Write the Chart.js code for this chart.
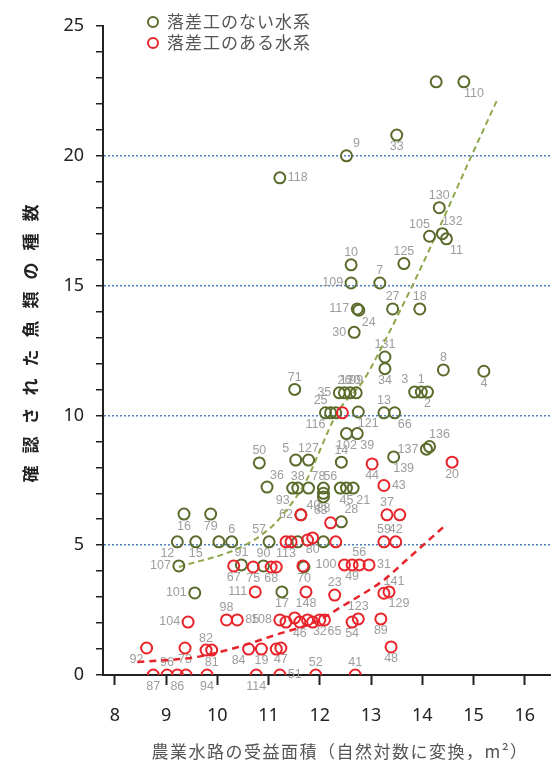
<!DOCTYPE html>
<html>
<head>
<meta charset="utf-8">
<script src="https://cdn.jsdelivr.net/npm/chart.js@4.4.1/dist/chart.umd.min.js"></script>
<style>
html, body { margin: 0; background: #fff; }
#wrap { width: 558px; height: 769px; }
</style>
</head>
<body>
<div id="wrap"><canvas id="c"></canvas></div>
<script>
// 落差工のない水系（緑）
const greenX = [14.27, 14.81, 13.50, 12.52, 11.22, 14.33, 14.14, 14.39, 14.47, 12.61,
                13.64, 12.61, 13.17, 12.73, 13.42, 13.95, 12.76, 12.67, 13.27, 13.27,
                14.41, 15.20, 13.85, 13.98, 14.10, 11.51, 12.38, 12.48, 12.59, 12.71,
                13.25, 13.46, 12.11, 12.21, 12.31, 12.75, 12.52, 12.73, 12.42, 13.44,
                14.08, 14.14, 10.82, 10.97, 11.53, 11.78, 11.47, 11.57, 11.78, 12.07,
                12.07, 12.07, 12.40, 12.52, 12.65, 11.63, 12.42, 9.22, 9.58, 10.03,
                10.28, 9.35, 9.87, 11.01, 11.57, 12.07, 9.25, 9.56, 10.47, 10.90,
                11.69, 11.26];
const greenY = [22.85, 22.85, 20.8, 20.0, 19.15, 18.0, 16.9, 17.0, 16.8, 15.8,
                15.85, 15.1, 15.1, 14.1, 14.1, 14.1, 14.05, 13.2, 12.25, 11.8,
                11.75, 11.7, 10.9, 10.9, 10.9, 11.0, 10.87, 10.87, 10.87, 10.87,
                10.1, 10.1, 10.1, 10.1, 10.1, 10.13, 9.3, 9.3, 8.2, 8.4,
                8.7, 8.8, 8.17, 7.24, 8.28, 8.28, 7.2, 7.2, 7.2, 7.2,
                7.0, 6.86, 7.2, 7.2, 7.2, 6.17, 5.9, 5.13, 5.13, 5.13,
                5.13, 6.2, 6.2, 5.13, 5.13, 5.13, 4.2, 3.16, 4.24, 4.2,
                4.16, 3.2];
const greenIds = ['', '110', '33', '9', '118', '130', '105', '132', '11', '10',
                  '125', '109', '7', '117', '27', '18', '24', '30', '131', '34',
                  '8', '4', '3', '1', '2', '71', '35', '26', '120', '99',
                  '13', '66', '116', '25', '', '121', '102', '39', '14', '139',
                  '137', '136', '50', '36', '5', '127', '93', '38', '78', '',
                  '40', '88', '56', '45', '21', '62', '28', '12', '15', '',
                  '6', '16', '79', '57', '', '', '107', '101', '91', '90',
                  '70', '17'];
const greenSide = ['', 'br', 'b', 'tr', 'r', 't', 'tl', 'tr', 'br', 't',
                   't', 'l', 't', 'l', 't', 't', 'br', 'l', 't', 'b',
                   't', 'b', 'tl', 't', 'b', 't', 'l', 't', 't', 't',
                   't', 'br', 'bl', 'tl', '', 'br', 'b', 'br', 't', 'br',
                   'l', 'tr', 't', 'tr', 'tl', 't', 'bl', 't', 'tr', '',
                   'bl', 'b', 'tl', 'b', 'br', 'l', 'tr', 'bl', 'b', '',
                   't', 'b', 'b', 'tl', '', '', 'l', 'l', 't', 't',
                   'b', 'b'];

// 落差工のある水系（赤）
const redX = [12.44, 13.02, 13.25, 13.31, 13.56, 13.25, 13.48, 14.58, 11.63, 12.21,
              11.34, 11.44, 11.76, 11.86, 12.31, 10.32, 10.70, 11.05, 11.15, 11.67,
              12.48, 12.63, 12.77, 12.96, 12.29, 11.73, 13.25, 13.35, 11.22, 11.34,
              11.51, 11.61, 11.76, 11.86, 12.00, 12.09, 12.63, 12.75, 13.19, 10.61,
              10.86, 11.15, 11.24, 13.39, 8.62, 9.37, 9.78, 9.89, 10.18, 10.39,
              9.43, 10.74, 8.75, 9.02, 9.22, 9.39, 9.80, 10.76, 11.22, 11.92,
              12.69];
const redY = [10.1, 8.13, 7.3, 6.17, 6.17, 5.13, 5.13, 8.2, 6.17, 5.86,
              5.13, 5.13, 5.2, 5.28, 5.13, 4.2, 4.16, 4.16, 4.16, 4.2,
              4.24, 4.24, 4.24, 4.24, 3.08, 3.2, 3.15, 3.2, 2.12, 2.04,
              2.2, 2.04, 2.12, 2.04, 2.12, 2.12, 2.04, 2.16, 2.16, 1.0,
              1.0, 1.0, 1.04, 1.08, 1.04, 1.04, 0.96, 0.96, 2.12, 2.12,
              2.04, 3.2, 0, 0, 0, 0, 0, 0, 0, 0,
              0];
const redIds = ['', '44', '43', '37', '', '59', '42', '20', '', '63',
                '113', '', '', '80', '', '67', '75', '68', '', '',
                '100', '49', '56', '31', '23', '148', '141', '129', '108', '',
                '', '46', '', '', '32', '65', '54', '123', '89', '84',
                '19', '', '47', '48', '92', '73', '82', '81', '98', '85',
                '104', '111', '87', '96', '86', '', '94', '114', '51', '52',
                '41'];
const redSide = ['', 'b', 'r', 't', '', 't', 't', 'b', '', 'tl',
                 'b', '', '', 'b', '', 'b', 'b', 'b', '', '',
                 'l', 'b', 't', 'r', 't', 'b', 'tr', 'br', 'l', '',
                 '', 'b', '', '', 'b', 'br', 'b', 't', 'b', 'bl',
                 'b', '', 'b', 'b', 'bl', 'b', 't', 'b', 't', 'r',
                 'l', 'l', 'b', 't', 'b', '', 'b', 'b', 'r', 't',
                 't'];

// 近似曲線（図から読み取った点）
const greenFitX = [9.25, 10.47, 10.99, 11.19, 11.71, 12.34, 12.86, 13.25, 13.83, 14.14, 14.95, 15.47];
const greenFitY = [4.16, 4.93, 5.59, 5.97, 7.40, 10.1, 11.37, 12.8, 15.1, 16.4, 19.96, 22.2];
const redFitX = [8.44, 9.58, 10.41, 11.13, 11.90, 12.54, 13.25, 13.69, 14.41];
const redFitY = [0.5, 0.69, 1.08, 1.54, 2.04, 2.77, 3.66, 4.43, 5.70];

const legendLabels = ['落差工のない水系', '落差工のある水系'];
const xTitle = '農業水路の受益面積（自然対数に変換，m²）';
const yTitle = '確認された魚類の種数';

const GREEN = '#5a6b2c';
const RED = '#e8242b';

function toPoints(xs, ys) {
    return xs.map((x, i) => ({ x: x, y: ys[i] }));
}

// 点の番号ラベル
const pointLabels = {
    id: 'pointLabels',
    beforeDatasetsDraw(chart) {
        const ctx = chart.ctx;
        ctx.save();
        ctx.font = '12.5px "Liberation Sans", Arial, sans-serif';
        ctx.fillStyle = '#9d9d9d';
        ctx.textBaseline = 'middle';
        chart.data.datasets.forEach((ds, i) => {
            if (!ds.ids) return;
            const meta = chart.getDatasetMeta(i);
            meta.data.forEach((pt, j) => {
                const id = ds.ids[j];
                if (!id) return;
                const side = ds.sides[j] || 't';
                let dx = 0, dy = 0, align = 'center';
                if (side === 'l') { dx = -8; align = 'right'; }
                else if (side === 'r') { dx = 8; align = 'left'; }
                else {
                    if (side.includes('t')) dy = -12;
                    if (side.includes('b')) dy = 12;
                    if (side.includes('l')) dx = -10;
                    if (side.includes('r')) dx = 10;
                }
                ctx.textAlign = align;
                ctx.fillText(id, pt.x + dx, pt.y + dy);
            });
        });
        ctx.restore();
    }
};

// 凡例と軸タイトル
const legendAndTitles = {
    id: 'legendAndTitles',
    afterDraw(chart) {
        const ctx = chart.ctx;
        const colors = [GREEN, RED];
        ctx.save();
        ctx.font = '17px "Noto Sans CJK JP", sans-serif';
        ctx.letterSpacing = '1px';
        ctx.textBaseline = 'middle';
        ctx.textAlign = 'left';
        legendLabels.forEach((txt, i) => {
            const y = 22 + i * 21;
            ctx.beginPath();
            ctx.arc(153, y, 5, 0, Math.PI * 2);
            ctx.lineWidth = 2;
            ctx.strokeStyle = colors[i];
            ctx.stroke();
            ctx.fillStyle = '#555';
            ctx.fillText(txt, 167, y);
        });
        ctx.restore();

        // x軸タイトル
        const area = chart.chartArea;
        ctx.save();
        ctx.font = '17px "Noto Sans CJK JP", sans-serif';
        ctx.letterSpacing = '1.5px';
        ctx.fillStyle = '#555';
        ctx.textAlign = 'center';
        ctx.textBaseline = 'middle';
        ctx.fillText(xTitle, 340, 752);
        ctx.restore();

        // y軸タイトル
        ctx.save();
        ctx.font = 'bold 17px "Noto Sans CJK JP", sans-serif';
        ctx.letterSpacing = '12px';
        ctx.fillStyle = '#222';
        ctx.textAlign = 'center';
        ctx.textBaseline = 'middle';
        ctx.translate(31, (area.top + area.bottom) / 2 - 7);
        ctx.rotate(-Math.PI / 2);
        ctx.fillText(yTitle, 6, 0);
        ctx.restore();
    }
};

new Chart(document.getElementById('c'), {
    type: 'scatter',
    data: {
        datasets: [
            {
                label: legendLabels[1],
                data: toPoints(redX, redY),
                ids: redIds,
                sides: redSide,
                borderColor: RED,
                backgroundColor: 'rgba(0,0,0,0)',
                pointRadius: 5.5,
                borderWidth: 2,
                order: 0
            },
            {
                label: legendLabels[0],
                data: toPoints(greenX, greenY),
                ids: greenIds,
                sides: greenSide,
                borderColor: GREEN,
                backgroundColor: 'rgba(0,0,0,0)',
                pointRadius: 5.5,
                borderWidth: 2,
                order: 1
            },
            {
                label: 'fit-green',
                data: toPoints(greenFitX, greenFitY),
                showLine: true,
                pointRadius: 0,
                borderColor: '#8ea84b',
                borderWidth: 2,
                borderDash: [6, 4],
                cubicInterpolationMode: 'monotone',
                order: 2
            },
            {
                label: 'fit-red',
                data: toPoints(redFitX, redFitY),
                showLine: true,
                pointRadius: 0,
                borderColor: RED,
                borderWidth: 2.5,
                borderDash: [7, 5],
                cubicInterpolationMode: 'monotone',
                order: 2
            }
        ]
    },
    options: {
        responsive: true,
        maintainAspectRatio: false,
        animation: false,
        layout: { padding: { top: 26, right: 3, left: 0, bottom: 0 } },
        plugins: {
            legend: { display: false },
            tooltip: { enabled: false }
        },
        scales: {
            x: {
                type: 'linear',
                min: 7.77,
                max: 16.5,
                ticks: {
                    stepSize: 1,
                    includeBounds: false,
                    color: '#222',
                    padding: 20,
                    font: { family: '"Noto Sans", sans-serif', size: 18 }
                },
                grid: { drawOnChartArea: false, tickLength: 10, tickColor: '#222', tickWidth: 2 },
                border: { color: '#222', width: 2 },
                title: { display: false, text: xTitle },
                afterFit(scale) { scale.height = 94; }
            },
            y: {
                min: 0,
                max: 25,
                ticks: {
                    stepSize: 1,
                    autoSkip: false,
                    color: '#222',
                    padding: 12,
                    font: { family: '"Noto Sans", sans-serif', size: 18 },
                    callback: v => (v % 5 === 0 ? v : '')
                },
                grid: {
                    color: c => (c.tick && c.tick.value % 5 === 0 && c.tick.value > 0 && c.tick.value < 25) ? '#4f81bd' : 'rgba(0,0,0,0)',
                    lineWidth: 1.5,
                    tickColor: '#222',
                    tickLength: 7,
                    tickWidth: 1.5
                },
                border: { color: '#222', width: 2, dash: [2, 2] },
                title: { display: false, text: yTitle },
                afterFit(scale) { scale.width = 103; }
            }
        }
    },
    plugins: [pointLabels, legendAndTitles]
});
</script>
</body>
</html>
